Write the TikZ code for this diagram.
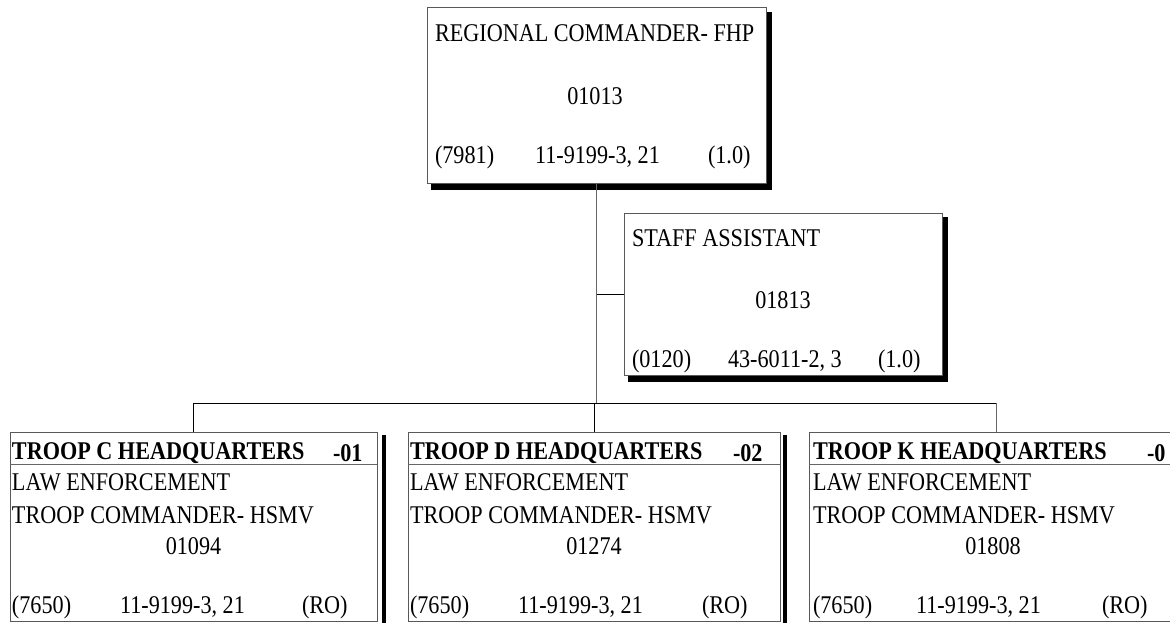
\documentclass[tikz,border=0pt]{standalone}
\usepackage{fontspec}
\setmainfont{Liberation Serif}[FakeStretch=0.87]
\usetikzlibrary{calc}

\begin{document}
\begin{tikzpicture}[x=1pt,y=-1pt,
  every node/.style={inner sep=0pt, outer sep=0pt, font=\fontsize{25.5}{28}\selectfont},
  card/.style={draw=black!65, line width=1pt, fill=white, rectangle, anchor=north west},
  lbl/.style={anchor=west},
  num/.style={anchor=center},
  hdr/.style={anchor=west, font=\fontsize{25.5}{28}\selectfont\bfseries},
  wire/.style={draw=black, line width=1pt},
  shade/.style={fill=black},
]
\useasboundingbox (0,0) rectangle (1170,623);
\clip (0,0) rectangle (1170,623);

% ---------- boxes ----------
\node[card, minimum width=339pt, minimum height=175pt] (rc) at (427,8) {};
\node[card, minimum width=318pt, minimum height=162pt] (sa) at (624,213) {};
\node[card, minimum width=367pt, minimum height=189pt] (tc) at (10,432) {};
\node[card, minimum width=372pt, minimum height=189pt] (td) at (408,432) {};
\node[card, minimum width=374pt, minimum height=189pt] (tk) at (809,432) {};

% ---------- drop shadows ----------
\fill[shade] ($(rc.north east)+(1,4)$) rectangle ($(rc.south east)+(6,7)$);
\fill[shade] ($(rc.south west)+(4,1)$) rectangle ($(rc.south east)+(6,7)$);
\fill[shade] ($(sa.north east)+(1,4)$) rectangle ($(sa.south east)+(6,7)$);
\fill[shade] ($(sa.south west)+(4,1)$) rectangle ($(sa.south east)+(6,7)$);
\fill[shade] ($(tc.north east)+(5,3)$) rectangle ($(tc.south east)+(9,10)$);
\fill[shade] ($(td.north east)+(3,3)$) rectangle ($(td.south east)+(7,10)$);

% ---------- header rules in the troop boxes ----------
\foreach \b in {tc,td,tk}{
  \draw[black!60, line width=1pt] ($(\b.north west)+(0,32)$) -- ($(\b.north east)+(0,32)$);
}

% ---------- connectors ----------
\coordinate (bus) at (597,403);
\draw[wire, draw=black!60] (rc.south) -- (rc.south |- bus);
\draw[wire] (rc.south |- sa.west) -- (sa.west);
\draw[wire] (tc.north |- bus) -- (tk.north |- bus);
\draw[wire] (tc.north |- bus) -- (tc.north);
\draw[wire] (td.north |- bus) -- (td.north);
\draw[wire, draw=black!60] (tk.north |- bus) -- (tk.north);

% ---------- regional commander ----------
\node[lbl] (rcT) at ($(rc.north west)+(8,25)$) {REGIONAL COMMANDER- FHP};
\node[num] (rcN) at ($(rc.north)+(-1.5,88)$) {01013};
\node[lbl] (rcA) at ($(rc.north west)+(8,149)$) {(7981)};
\node[lbl] (rcB) at ($(rc.north west)+(108,149)$) {11-9199-3, 21};
\node[lbl] (rcC) at ($(rc.north west)+(281,149)$) {(1.0)};

% ---------- staff assistant ----------
\node[lbl] (saT) at ($(sa.north west)+(8,25)$) {STAFF ASSISTANT};
\node[num] (saN) at ($(sa.north)+(0,87)$) {01813};
\node[lbl] (saA) at ($(sa.north west)+(8,148)$) {(0120)};
\node[lbl] (saB) at ($(sa.north west)+(104,148)$) {43-6011-2, 3};
\node[lbl] (saC) at ($(sa.north west)+(254,148)$) {(1.0)};

% ---------- troop C ----------
\node[hdr] (tcH) at ($(tc.north west)+(2,21)$) {TROOP C HEADQUARTERS};
\node[hdr] (tcS) at ($(tc.north west)+(323,21)$) {-01};
\node[lbl] (tcL) at ($(tc.north west)+(2,50)$) {LAW ENFORCEMENT};
\node[lbl] (tcT) at ($(tc.north west)+(2,83)$) {TROOP COMMANDER- HSMV};
\node[num] (tcN) at ($(tc.north)+(0,114)$) {01094};
\node[lbl] (tcA) at ($(tc.north west)+(2,175)$) {(7650)};
\node[lbl] (tcB) at ($(tc.north west)+(110,175)$) {11-9199-3, 21};
\node[lbl] (tcC) at ($(tc.north west)+(292,175)$) {(RO)};

% ---------- troop D ----------
\node[hdr] (tdH) at ($(td.north west)+(2,21)$) {TROOP D HEADQUARTERS};
\node[hdr] (tdS) at ($(td.north west)+(325,21)$) {-02};
\node[lbl] (tdL) at ($(td.north west)+(2,50)$) {LAW ENFORCEMENT};
\node[lbl] (tdT) at ($(td.north west)+(2,83)$) {TROOP COMMANDER- HSMV};
\node[num] (tdN) at ($(td.north)+(0,114)$) {01274};
\node[lbl] (tdA) at ($(td.north west)+(2,175)$) {(7650)};
\node[lbl] (tdB) at ($(td.north west)+(110,175)$) {11-9199-3, 21};
\node[lbl] (tdC) at ($(td.north west)+(294,175)$) {(RO)};

% ---------- troop K ----------
\node[hdr] (tkH) at ($(tk.north west)+(4,21)$) {TROOP K HEADQUARTERS};
\node[hdr] (tkS) at ($(tk.north west)+(338,21)$) {-0};
\node[lbl] (tkL) at ($(tk.north west)+(4,50)$) {LAW ENFORCEMENT};
\node[lbl] (tkT) at ($(tk.north west)+(4,83)$) {TROOP COMMANDER- HSMV};
\node[num] (tkN) at ($(tk.north)+(-3,114)$) {01808};
\node[lbl] (tkA) at ($(tk.north west)+(4,175)$) {(7650)};
\node[lbl] (tkB) at ($(tk.north west)+(107,175)$) {11-9199-3, 21};
\node[lbl] (tkC) at ($(tk.north west)+(293,175)$) {(RO)};
\end{tikzpicture}
\end{document}
